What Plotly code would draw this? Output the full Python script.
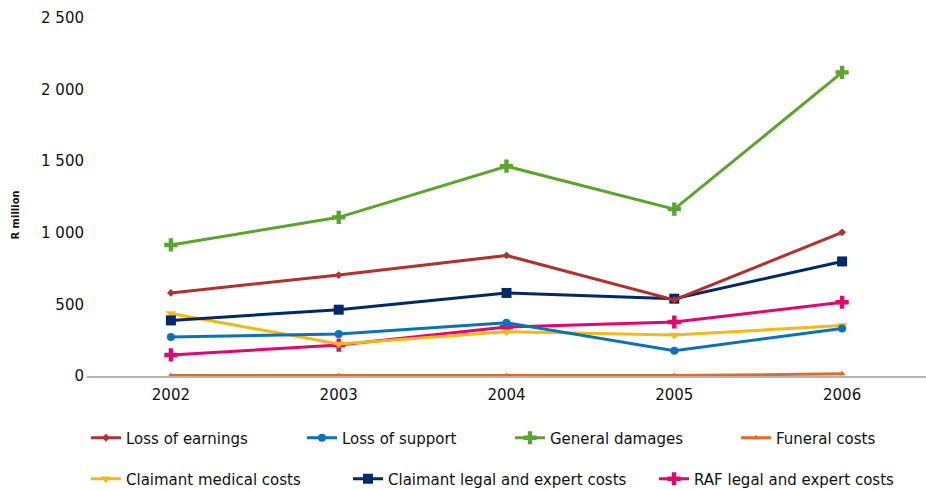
import plotly.graph_objects as go

years = ["2002", "2003", "2004", "2005", "2006"]
year_labels = ["2002", "2003", "2004", "2005", "2006"]

loss_of_earnings = [580, 705, 842, 531, 1003]
loss_of_support = [272, 293, 372, 177, 332]
general_damages = [915, 1108, 1465, 1165, 2120]
funeral_costs = [3, 3, 3, 3, 15]
claimant_medical = [437, 223, 309, 286, 352]
claimant_legal = [388, 463, 580, 540, 800]
raf_legal = [147, 216, 342, 377, 515]

y_tickvals = [0, 500, 1000, 1500, 2000, 2500]
y_ticktext = ["0", "500", "1 000", "1 500", "2 000", "2 500"]

series = [
    ("Loss of earnings", loss_of_earnings, "#b3302c", "diamond", 6, "legend", 86, 438),
    ("Loss of support", loss_of_support, "#0a72bd", "circle", 8, "legend2", 302, 438),
    ("General damages", general_damages, "#5aa52b", "cross", 11, "legend3", 510, 438),
    ("Funeral costs", funeral_costs, "#e8691c", "triangle-up", 6, "legend4", 736, 438),
    ("Claimant medical costs", claimant_medical, "#f4b915", "triangle-down", 9, "legend5", 86, 479),
    ("Claimant legal and expert costs", claimant_legal, "#00296b", "square", 10, "legend6", 348, 479),
    ("RAF legal and expert costs", raf_legal, "#e2066f", "cross", 11, "legend7", 654, 479),
]

FONT = "DejaVu Sans"
FS = 15
fig = go.Figure()
order = [6, 4, 1, 5, 0, 2, 3]
for i in order:
    name, vals, col, sym, size, lg, lx, ly = series[i]
    fig.add_trace(go.Scatter(
        x=years, y=vals, name=name, mode="lines+markers",
        line=dict(color=col, width=3),
        marker=dict(symbol=sym, size=size, color=col),
        cliponaxis=False, legend=lg,
    ))

legend_layout = {}
for name, vals, col, sym, size, lg, lx, ly in series:
    legend_layout[lg] = dict(
        xref="container", yref="container",
        x=lx / 926, y=1 - ly / 490, xanchor="left", yanchor="middle",
        orientation="h", bgcolor="rgba(0,0,0,0)",
        font=dict(family=FONT, size=FS, color="#111111"),
        itemwidth=30,
    )

fig.update_layout(
    width=926, height=490,
    margin=dict(l=87, r=0, t=18, b=114),
    plot_bgcolor="white", paper_bgcolor="white",
    font=dict(family=FONT, size=FS, color="#111111"),
    showlegend=True,
    **legend_layout,
    xaxis=dict(
        type="category", categoryorder="array", categoryarray=years,
        tickvals=years, ticktext=year_labels,
        range=[-0.5, 4.5], showgrid=False, zeroline=False,
        showline=True, linecolor="#b5b5b5", linewidth=2,
        ticks="", ticklabelstandoff=4,
        tickfont=dict(family=FONT, size=FS, color="#111111"),
    ),
    yaxis=dict(
        range=[0, 2500], tickvals=y_tickvals, ticktext=y_ticktext,
        showgrid=False, zeroline=False, showline=False, ticks="",
        ticklabelstandoff=2,
        tickfont=dict(family=FONT, size=FS, color="#111111"),
    ),
    annotations=[dict(
        text="<b>R million</b>", textangle=-90, xref="paper", yref="paper",
        x=-0.085, y=0.45, xanchor="center", yanchor="middle", showarrow=False,
        font=dict(family=FONT, size=10, color="#111111"),
    )],
)

fig.write_html("out.html")
